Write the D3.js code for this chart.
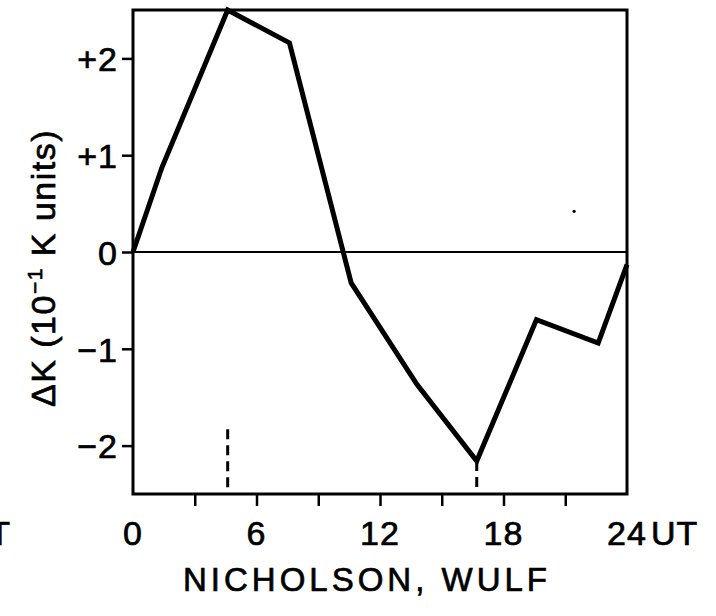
<!DOCTYPE html>
<html>
<head>
<meta charset="utf-8">
<script src="https://cdn.jsdelivr.net/npm/d3@7"></script>
<style>
  html, body { margin: 0; padding: 0; background: #fff; }
  svg { display: block; }
  text { font-family: "Liberation Sans", Arial, sans-serif; fill: #000; }
</style>
</head>
<body>
<svg id="chart" width="716" height="616"></svg>
<script>
// Diurnal variation of K (in tenths of K units) vs universal time
const hours = [0, 1.4, 4.6, 7.6, 10.6, 13.8, 16.7, 19.6, 22.6, 24];
const deltaK = [0, 0.87, 2.5, 2.16, -0.32, -1.37, -2.16, -0.70, -0.94, -0.13];

// dashed markers below the curve extrema
const markerHours = [4.6, 16.7];
const markerTops = [-1.83, -2.16];

const yTicks = [2, 1, 0, -1, -2];
const yTickLabels = ["+2", "+1", "0", "\u22121", "\u22122"];
const xMinorTicks = [3, 6, 9, 12, 15, 18, 21];
const xLabelTicks = [0, 6, 12, 18, 24];
const xTickLabels = ["0", "6", "12", "18", "24"];

const svg = d3.select("#chart");
const plotLeft = 133, plotRight = 627, plotTop = 10, plotBottom = 494;
const fs = 34, textStroke = 0.7;

const x = d3.scaleLinear().domain([0, 24]).range([plotLeft, plotRight]);
const y = d3.scaleLinear().domain([-2.5, 2.5]).range([plotBottom, plotTop]);

// zero line
svg.append("line")
  .attr("x1", x(0)).attr("x2", x(24))
  .attr("y1", y(0)).attr("y2", y(0))
  .attr("stroke", "#000").attr("stroke-width", 2);

// frame
svg.append("rect")
  .attr("x", plotLeft).attr("y", plotTop)
  .attr("width", plotRight - plotLeft).attr("height", plotBottom - plotTop)
  .attr("fill", "none").attr("stroke", "#000").attr("stroke-width", 3);

// y axis ticks (outward) and labels
const yAxis = d3.axisLeft(y).tickValues(yTicks)
  .tickSize(11).tickPadding(4)
  .tickFormat((d, i) => yTickLabels[i]);
const gy = svg.append("g").attr("transform", `translate(${plotLeft},0)`).call(yAxis);
gy.select(".domain").remove();
gy.selectAll(".tick line").attr("stroke", "#000").attr("stroke-width", 2.5);
gy.selectAll(".tick text")
  .attr("font-size", fs).attr("font-family", "Liberation Sans, Arial, sans-serif")
  .attr("letter-spacing", 1)
  .attr("fill", "#000")
  .attr("stroke", "#000").attr("stroke-width", textStroke)
  .attr("dy", "0.36em");

// x axis ticks (outward, every 3 h)
const xAxis = d3.axisBottom(x).tickValues(xMinorTicks).tickSize(12).tickFormat("");
const gx = svg.append("g").attr("transform", `translate(0,${plotBottom})`).call(xAxis);
gx.select(".domain").remove();
gx.selectAll(".tick line").attr("stroke", "#000").attr("stroke-width", 2.5);

// x labels
const xl = svg.append("g");
xLabelTicks.forEach((h, i) => {
  const t = xl.append("text")
    .attr("y", 545)
    .attr("font-size", fs)
    .attr("letter-spacing", 1)
    .attr("stroke", "#000").attr("stroke-width", textStroke)
    .text(xTickLabels[i]);
  if (h === 24) {
    const w = t.node().getComputedTextLength();
    t.attr("x", x(h) - w / 2).attr("text-anchor", "start");
    t.append("tspan").attr("dx", 4).text("UT");
  } else {
    t.attr("x", x(h)).attr("text-anchor", "middle");
  }
});

// fragment of a neighbouring "UT" label at the left edge
svg.append("text")
  .attr("x", 10).attr("y", 545)
  .attr("text-anchor", "end")
  .attr("font-size", fs)
  .attr("stroke", "#000").attr("stroke-width", textStroke)
  .text("UT");

// dashed markers
svg.append("g").selectAll("line")
  .data(markerHours)
  .join("line")
  .attr("x1", d => x(d)).attr("x2", d => x(d))
  .attr("y1", (d, i) => y(markerTops[i])).attr("y2", y(-2.5))
  .attr("stroke", "#000").attr("stroke-width", 3)
  .attr("stroke-dasharray", "10,6");

// curve
const line = d3.line().x((d, i) => x(hours[i])).y(d => y(d));
svg.append("path")
  .datum(deltaK)
  .attr("d", line)
  .attr("fill", "none")
  .attr("stroke", "#000")
  .attr("stroke-width", 5)
  .attr("stroke-linejoin", "miter");

// speck
svg.append("circle").attr("cx", x(21.43)).attr("cy", y(0.42)).attr("r", 1.6).attr("fill", "#000");

// y axis title
const yt = svg.append("text")
  .attr("transform", `translate(55,268) rotate(-90)`)
  .attr("text-anchor", "middle")
  .attr("font-size", fs)
  .attr("letter-spacing", 1.5)
  .attr("stroke", "#000").attr("stroke-width", textStroke);
yt.append("tspan").text("\u0394K (10");
yt.append("tspan").attr("font-size", 21).attr("dy", -13).text("\u22121");
yt.append("tspan").attr("dy", 13).text(" K units)");

// station caption
svg.append("text")
  .attr("x", 367).attr("y", 591)
  .attr("text-anchor", "middle")
  .attr("font-size", 33)
  .attr("letter-spacing", 4)
  .attr("stroke", "#000").attr("stroke-width", textStroke)
  .text("NICHOLSON, WULF");
</script>
</body>
</html>
